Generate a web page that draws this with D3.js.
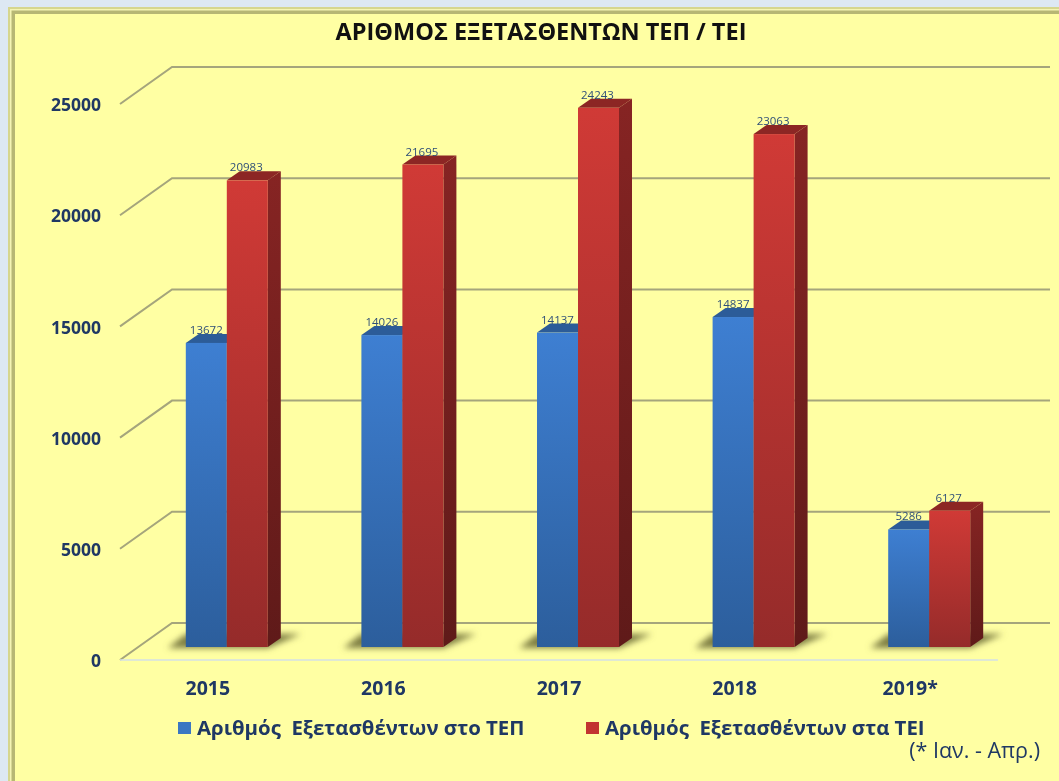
<!DOCTYPE html>
<html lang="el">
<head>
	<meta charset="UTF-8">
	<title>Αριθμός εξετασθέντων ΤΕΠ / ΤΕΙ</title>
	<script src="https://cdn.jsdelivr.net/npm/d3@7"></script>
	<style>
		html,body{
			margin:0;
			padding:0;
			background:#dde8f3;
			overflow:hidden;
		}
		svg{
			display:block;
			filter:blur(0.7px);
		}
		text{
			font-family:"Open Sans","Noto Sans",sans-serif;
		}
	</style>
</head>
<body>
	<svg id="chart" width="1059" height="781"></svg>
	<script>
		var years = ["2015", "2016", "2017", "2018", "2019*"];
		var tepValues = [13672, 14026, 14137, 14837, 5286];
		var teiValues = [20983, 21695, 24243, 23063, 6127];
		var yTicks = [0, 5000, 10000, 15000, 20000, 25000];
		var legendNames = ["Αριθμός  Εξετασθέντων στο ΤΕΠ", "Αριθμός  Εξετασθέντων στα ΤΕΙ"];

		var w = 1059,
			h = 781,
			navy = "#1f3864",
			gridColor = "#a5a57c",
			backDx = 52,
			backDy = -37,
			barDx = 19,
			barDy = -13,
			depthDx = 13,
			depthDy = -9,
			barW = 41;

		var svg = d3.select("#chart");

		var x = d3.scaleBand().domain(years).range([120, 998]);
		var y = d3.scaleLinear().domain([0, 25000]).range([660, 104]);

		var defs = svg.append("defs");
		function gradient(id, top, bottom){
			var g = defs.append("linearGradient")
				.attr("id", id)
				.attr("x1", 0).attr("y1", 0)
				.attr("x2", 0).attr("y2", 1);
			g.append("stop").attr("offset", "0%").attr("stop-color", top);
			g.append("stop").attr("offset", "100%").attr("stop-color", bottom);
		}
		gradient("blueFront", "#3e7fd2", "#2c5e9c");
		gradient("redFront", "#d03a36", "#952b2a");
		gradient("redSide", "#862423", "#5f1a19");
		gradient("blueSide", "#2b5c9a", "#1f4474");
		defs.append("filter").attr("id", "soft")
			.attr("x", "-30%").attr("y", "-80%")
			.attr("width", "160%").attr("height", "260%")
			.append("feGaussianBlur").attr("stdDeviation", 3);

		// page frame
		svg.append("rect").attr("x", 8).attr("y", 7).attr("width", w).attr("height", h)
			.attr("fill", "#d6d68e");
		svg.append("rect").attr("x", 10).attr("y", 9).attr("width", w).attr("height", h)
			.attr("fill", "#f4f4b4");
		svg.append("rect").attr("x", 11.5).attr("y", 10.5).attr("width", w).attr("height", h)
			.attr("fill", "#b7b774");
		svg.append("rect").attr("x", 15).attr("y", 14).attr("width", w).attr("height", h)
			.attr("fill", "#ffffa3");

		// back grid with the diagonal side wall
		var grid = svg.append("g")
			.attr("fill", "none")
			.attr("stroke", gridColor)
			.attr("stroke-width", 2);
		yTicks.forEach(function(t){
			grid.append("path").attr("d", d3.line()([
				[120, y(t)],
				[120 + backDx, y(t) + backDy],
				[1050, y(t) + backDy]
			]));
		});

		// front edge of the floor
		svg.append("line")
			.attr("x1", 120).attr("x2", 998)
			.attr("y1", y(0)).attr("y2", y(0))
			.attr("stroke", "#d5e0e6")
			.attr("stroke-width", 1.5);

		// axes
		var yAxis = svg.append("g")
			.attr("transform", "translate(120,1)")
			.call(d3.axisLeft(y).tickValues(yTicks).tickSize(0).tickPadding(19).tickFormat(d3.format("d")));
		var xAxis = svg.append("g")
			.attr("transform", "translate(0," + y(0) + ")")
			.call(d3.axisBottom(x).tickSize(0).tickPadding(21));
		[[yAxis, 17.5], [xAxis, 19.5]].forEach(function(a){
			a[0].select(".domain").remove();
			a[0].selectAll("text")
				.style("font-family", '"Open Sans","Noto Sans",sans-serif')
				.attr("font-size", a[1])
				.attr("font-weight", 700)
				.attr("fill", navy);
		});

		var rows = years.map(function(d, i){
			return {year: d, tep: tepValues[i], tei: teiValues[i]};
		});

		function frontX(d){
			return x(d.year) + x.bandwidth() / 2 + barDx - barW;
		}
		function topY(v){
			return y(v) + barDy;
		}
		var floorY = y(0) + barDy;

		// floor shadows
		svg.append("g").selectAll("path").data(rows).join("path")
			.attr("d", function(d){
				var l = frontX(d), r = l + barW * 2;
				return d3.line()([
					[l - 18, floorY + 1],
					[l, floorY - 13],
					[r + depthDx + 20, floorY - 13],
					[r, floorY + 1]
				]);
			})
			.attr("fill", "#7d7d42")
			.attr("filter", "url(#soft)");

		// draw one column: side, top, front
		function columns(key, offset, front, side, topColor){
			var g = svg.append("g").selectAll("g").data(rows).join("g")
				.attr("class", "col-" + key);
			g.append("path")
				.attr("d", function(d){
					var r = frontX(d) + offset + barW, t = topY(d[key]);
					return d3.line()([
						[r, t],
						[r + depthDx, t + depthDy],
						[r + depthDx, floorY + depthDy],
						[r, floorY]
					]) + "Z";
				})
				.attr("fill", side);
			g.append("path")
				.attr("d", function(d){
					var l = frontX(d) + offset, t = topY(d[key]);
					return d3.line()([
						[l, t],
						[l + depthDx, t + depthDy],
						[l + barW + depthDx, t + depthDy],
						[l + barW, t]
					]) + "Z";
				})
				.attr("fill", topColor);
			g.append("rect")
				.attr("x", function(d){ return frontX(d) + offset; })
				.attr("y", function(d){ return topY(d[key]); })
				.attr("width", barW)
				.attr("height", function(d){ return floorY - topY(d[key]); })
				.attr("fill", front);
		}
		columns("tep", 0, "url(#blueFront)", "url(#blueSide)", "#2c5c98");
		columns("tei", barW, "url(#redFront)", "url(#redSide)", "#8c2624");

		// value labels
		function valueLabels(key, offset){
			svg.append("g").selectAll("text").data(rows).join("text")
				.attr("x", function(d){ return frontX(d) + offset + barW / 2; })
				.attr("y", function(d){ return topY(d[key]) - 9; })
				.attr("text-anchor", "middle")
				.attr("font-size", 11.5)
				.attr("fill", "#2f4f78")
				.text(function(d){ return d[key]; });
		}
		valueLabels("tep", 0);
		valueLabels("tei", barW - 1);

		// title
		svg.append("text")
			.attr("x", 541).attr("y", 40)
			.attr("text-anchor", "middle")
			.attr("font-size", 23.5)
			.attr("font-weight", 700)
			.attr("fill", "#111")
			.text("ΑΡΙΘΜΟΣ ΕΞΕΤΑΣΘΕΝΤΩΝ ΤΕΠ / ΤΕΙ");

		// legend
		var legendX = [178, 586],
			legendFill = ["#3b77c2", "#c23431"];
		legendNames.forEach(function(name, i){
			svg.append("rect")
				.attr("x", legendX[i]).attr("y", 722)
				.attr("width", 13).attr("height", 12)
				.attr("fill", legendFill[i]);
			svg.append("text")
				.attr("x", legendX[i] + 19).attr("y", 735)
				.attr("font-size", 20.4)
				.attr("font-weight", 700)
				.attr("fill", navy)
				.style("white-space", "pre")
				.text(name);
		});

		svg.append("text")
			.attr("x", 1040).attr("y", 758)
			.attr("text-anchor", "end")
			.attr("font-size", 21.5)
			.attr("fill", navy)
			.text("(* Ιαν. - Απρ.)");
	</script>
</body>
</html>
